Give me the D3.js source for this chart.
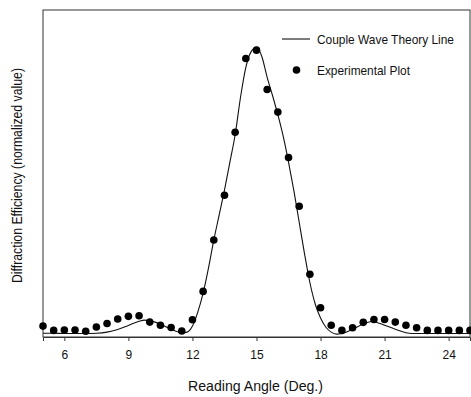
<!DOCTYPE html>
<html>
<head>
<meta charset="utf-8">
<script src="https://cdn.jsdelivr.net/npm/d3@7"></script>
<style>
  html, body { margin: 0; padding: 0; background: #fff; }
  svg { display: block; }
  text { font-family: "Liberation Sans", Arial, Helvetica, sans-serif; fill: #111; }
</style>
</head>
<body>
<svg id="chart" width="471" height="397"></svg>
<script>
// Measured diffraction efficiency (normalized) vs. reading angle
const expAngles = [5, 5.5, 6, 6.5, 7, 7.5, 8, 8.5, 9, 9.5, 10, 10.5, 11, 11.5, 12, 12.5, 13, 13.5, 14, 14.5,
                   15, 15.5, 16, 16.5, 17, 17.5, 18, 18.5, 19, 19.5, 20, 20.5, 21, 21.5, 22, 22.5, 23, 23.5, 24, 24.5, 25];
const expValues = [0.028, 0.013, 0.014, 0.014, 0.010, 0.025, 0.037, 0.053, 0.062, 0.064, 0.042, 0.031, 0.023, 0.011, 0.050,
                   0.149, 0.328, 0.484, 0.704, 0.961, 0.990, 0.853, 0.774, 0.616, 0.446, 0.209, 0.092, 0.031, 0.013, 0.022,
                   0.041, 0.051, 0.051, 0.042, 0.031, 0.022, 0.013, 0.013, 0.013, 0.013, 0.013];

// Coupled wave theory curve
const theoryAngles = [5, 5.5, 6, 6.5, 7, 7.5, 8, 8.5, 9, 9.5, 9.75, 10, 10.5, 11, 11.5, 11.75, 12, 12.25, 12.5, 12.75,
                      13, 13.25, 13.5, 13.75, 14, 14.25, 14.5, 14.75, 15, 15.25, 15.5, 15.75, 16, 16.25, 16.5, 16.75,
                      17, 17.25, 17.5, 17.75, 18, 18.25, 18.5, 18.75, 19, 19.5, 20, 20.4, 20.75, 21, 21.5, 22, 22.5, 23, 24, 25];
const theoryValues = [0.003, 0.003, 0.002, 0.002, 0.002, 0.003, 0.007, 0.016, 0.030, 0.045, 0.049, 0.047, 0.035, 0.017, 0.005, 0.007,
                      0.028, 0.077, 0.143, 0.230, 0.328, 0.415, 0.502, 0.598, 0.695, 0.825, 0.930, 0.985, 1.0, 0.968, 0.895,
                      0.832, 0.765, 0.690, 0.600, 0.500, 0.390, 0.280, 0.180, 0.105, 0.056, 0.024, 0.007, 0.0, 0.002, 0.017,
                      0.035, 0.044, 0.038, 0.031, 0.017, 0.005, 0.002, 0.002, 0.002, 0.002];

const xTicks = [6, 9, 12, 15, 18, 21, 24];
const xTitle = "Reading Angle (Deg.)";
const yTitle = "Diffraction Efficiency (normalized value)";
const legendLabels = ["Couple Wave Theory Line", "Experimental Plot"];

const svg = d3.select("#chart");
const m = { left: 43, right: 470, top: 10, bottom: 337 };

const x = d3.scaleLinear().domain([5, 25]).range([m.left, m.right]);
const y = d3.scaleLinear().domain([-0.01, 1.13]).range([m.bottom, m.top]);

// condensed text: squeeze a label into a fixed width
function narrow(sel, width) {
  sel.attr("textLength", width).attr("lengthAdjust", "spacingAndGlyphs");
  return sel;
}

// frame
svg.append("rect")
  .attr("x", m.left).attr("y", m.top)
  .attr("width", m.right - m.left).attr("height", m.bottom - m.top)
  .attr("fill", "none").attr("stroke", "#333").attr("stroke-width", 1);

// bottom axis
const xAxis = svg.append("g")
  .attr("transform", `translate(0,${m.bottom})`)
  .call(d3.axisBottom(x).tickValues(xTicks).tickSize(4).tickPadding(9).tickFormat(d3.format("d")));
xAxis.select(".domain").attr("stroke", "#333");
xAxis.selectAll(".tick line").attr("stroke", "#333");
xAxis.selectAll(".tick text")
  .style("font-size", "12px")
  .style("font-family", "'Liberation Sans', Arial, sans-serif")
  .attr("fill", "#111");

// axis titles
narrow(svg.append("text")
  .attr("x", 255.5).attr("y", 391)
  .attr("text-anchor", "middle")
  .style("font-size", "14px")
  .text(xTitle), 135);

narrow(svg.append("text")
  .attr("transform", `translate(22,175.5) rotate(-90)`)
  .attr("text-anchor", "middle")
  .style("font-size", "14px")
  .text(yTitle), 215);

// theory line
const line = d3.line()
  .x((d, i) => x(theoryAngles[i]))
  .y(d => y(d))
  .curve(d3.curveMonotoneX);

svg.append("path")
  .datum(theoryValues)
  .attr("d", line)
  .attr("fill", "none")
  .attr("stroke", "#111")
  .attr("stroke-width", 1.1);

// experimental points
svg.append("g")
  .selectAll("circle")
  .data(expValues)
  .join("circle")
  .attr("cx", (d, i) => x(expAngles[i]))
  .attr("cy", d => y(d))
  .attr("r", 3.8)
  .attr("fill", "#000");

// legend
const lg = svg.append("g");
lg.append("line")
  .attr("x1", 282).attr("x2", 310).attr("y1", 39).attr("y2", 39)
  .attr("stroke", "#111").attr("stroke-width", 1.1);
narrow(lg.append("text").attr("x", 317).attr("y", 44).style("font-size", "13.5px").text(legendLabels[0]), 137);
lg.append("circle").attr("cx", 296.5).attr("cy", 70).attr("r", 3.8).attr("fill", "#000");
narrow(lg.append("text").attr("x", 317).attr("y", 75).style("font-size", "13.5px").text(legendLabels[1]), 93);
</script>
</body>
</html>
